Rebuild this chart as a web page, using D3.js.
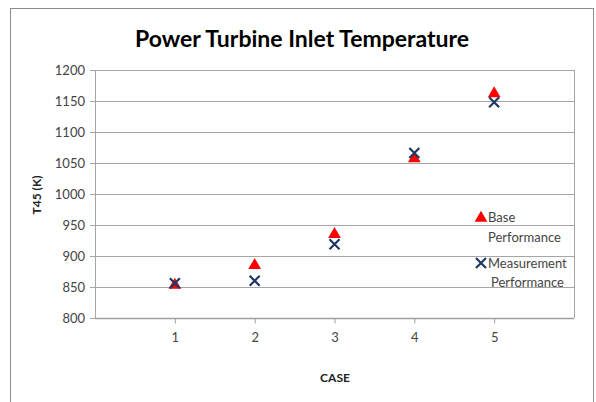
<!DOCTYPE html>
<html>
<head>
<meta charset="utf-8">
<script src="https://cdn.jsdelivr.net/npm/d3@7"></script>
<style>
  body { margin: 0; background: #fff; }
  svg { display: block; font-family: Lato, "Open Sans", sans-serif; }
  .axis text { fill: #444; font-size: 13px; font-family: Lato, sans-serif; }
</style>
</head>
<body>
<svg id="chart" width="596" height="402"></svg>
<script>
"use strict";

var cases = [1, 2, 3, 4, 5];
var basePerformance = [853, 885, 935, 1057, 1162];
var measurementPerformance = [856, 860, 919, 1066, 1148];
var yTicks = [800, 850, 900, 950, 1000, 1050, 1100, 1150, 1200];

var svg = d3.select("#chart");

// chart frame
svg.append("rect")
    .attr("x", 10.5).attr("y", 8.5)
    .attr("width", 583).attr("height", 400)
    .attr("fill", "#fff").attr("stroke", "#8c8c8c");

var plotLeft = 95, plotRight = 574, plotTop = 70, plotBottom = 318;
var x = d3.scaleLinear().domain([0, 6]).range([plotLeft, plotRight]);
var y = d3.scaleLinear().domain([800, 1200]).range([plotBottom, plotTop]);

// gridlines
svg.append("g").selectAll("line").data(yTicks).join("line")
    .attr("x1", plotLeft - 5).attr("x2", plotRight)
    .attr("y1", function (d) { return Math.round(y(d)) + 0.5; })
    .attr("y2", function (d) { return Math.round(y(d)) + 0.5; })
    .attr("stroke", "#a6a6a6");

svg.append("line")
    .attr("x1", plotRight + 0.5).attr("x2", plotRight + 0.5)
    .attr("y1", plotTop).attr("y2", plotBottom)
    .attr("stroke", "#a6a6a6");
svg.append("line")
    .attr("x1", plotLeft + 0.5).attr("x2", plotLeft + 0.5)
    .attr("y1", plotTop).attr("y2", plotBottom)
    .attr("stroke", "#a6a6a6");

var yAxis = d3.axisLeft(y).tickValues(yTicks).tickSize(0).tickPadding(6)
    .tickFormat(d3.format("d"));
var gY = svg.append("g").attr("class", "axis")
    .attr("transform", "translate(" + (plotLeft - 4) + ",0)")
    .call(yAxis);
gY.select(".domain").remove();

var xAxis = d3.axisBottom(x).tickValues(cases).tickSize(5).tickPadding(9)
    .tickFormat(d3.format("d"));
var gX = svg.append("g").attr("class", "axis")
    .attr("transform", "translate(0," + (plotBottom + 0.5) + ")")
    .call(xAxis);
gX.select(".domain").attr("d", "M" + plotLeft + ",0H" + plotRight)
    .attr("stroke", "#a0a0a0").attr("stroke-width", 1.5);
gX.selectAll(".tick line").attr("stroke", "#a0a0a0");

// markers
var tri = d3.symbol().type(d3.symbolTriangle).size(70);
svg.append("g").selectAll("path").data(cases).join("path")
    .attr("transform", function (d, i) {
        return "translate(" + x(d) + "," + y(basePerformance[i]) + ")";
    })
    .attr("d", tri)
    .attr("fill", "#ff0000");

function cross(g, cx, cy) {
    var r = 5;
    g.append("path")
        .attr("d", "M" + (cx - r) + "," + (cy - r) + "L" + (cx + r) + "," + (cy + r) +
            "M" + (cx - r) + "," + (cy + r) + "L" + (cx + r) + "," + (cy - r))
        .attr("stroke", "#1f3864").attr("stroke-width", 2.2).attr("fill", "none");
}
var gM = svg.append("g");
cases.forEach(function (d, i) {
    cross(gM, x(d), y(measurementPerformance[i]));
});

// legend
var lg = svg.append("g").attr("font-size", 13).attr("fill", "#444");
lg.append("path").attr("transform", "translate(481,218)").attr("d", tri).attr("fill", "#ff0000");
lg.append("text").attr("x", 488).attr("y", 222).text("Base");
lg.append("text").attr("x", 488).attr("y", 242).text("Performance");
cross(lg, 481, 263);
lg.append("text").attr("x", 488).attr("y", 268).text("Measurement");
lg.append("text").attr("x", 491).attr("y", 287).text("Performance");

// titles
svg.append("text")
    .attr("x", 302).attr("y", 47)
    .attr("text-anchor", "middle")
    .attr("font-size", 23).attr("font-weight", "bold").attr("fill", "#000")
    .text("Power Turbine Inlet Temperature");

svg.append("text")
    .attr("transform", "translate(41,195) rotate(-90)")
    .attr("text-anchor", "middle")
    .attr("font-size", 12).attr("font-weight", "bold").attr("fill", "#222")
    .text("T45 (K)");

svg.append("text")
    .attr("x", 335).attr("y", 382)
    .attr("text-anchor", "middle")
    .attr("font-size", 12).attr("font-weight", "bold").attr("fill", "#222")
    .text("CASE");
</script>
</body>
</html>
